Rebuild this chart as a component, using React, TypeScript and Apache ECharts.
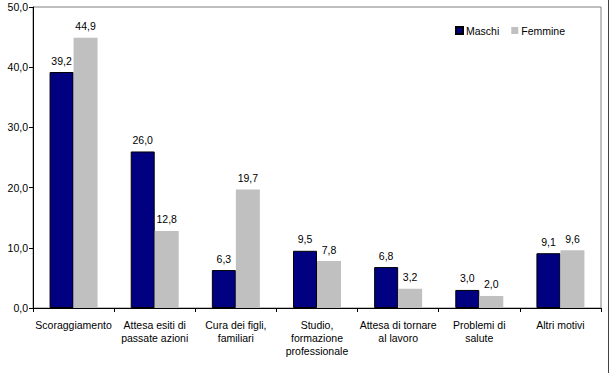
import React, { useEffect, useRef } from "react";
import * as echarts from "echarts";

const categories = [
  "Scoraggiamento",
  "Attesa esiti di\npassate azioni",
  "Cura dei figli,\nfamiliari",
  "Studio,\nformazione\nprofessionale",
  "Attesa di tornare\nal lavoro",
  "Problemi di\nsalute",
  "Altri motivi",
];
const maschi = [39.2, 26.0, 6.3, 9.5, 6.8, 3.0, 9.1];
const femmine = [44.9, 12.8, 19.7, 7.8, 3.2, 2.0, 9.6];
const yTicks = { min: 0, max: 50, interval: 10 };

const fmt = (v: number) => v.toFixed(1).replace(".", ",");
const FONT = "'Liberation Sans', Arial, sans-serif";
const FS = 10.5;

export default function App() {
  const ref = useRef<HTMLDivElement>(null);
  useEffect(() => {
    document.body.style.margin = "0";
    const chart = echarts.init(ref.current!, null, { renderer: "svg" });
    chart.setOption({
      animation: false,
      textStyle: { fontFamily: FONT },
      grid: {
        left: 33,
        right: 9,
        top: 7,
        bottom: 65,
        show: true,
        borderColor: "#808080",
        borderWidth: 1,
        backgroundColor: "#ffffff",
      },
      legend: {
        data: ["Maschi", "Femmine"],
        left: 450,
        top: 20,
        icon: "rect",
        itemWidth: 7,
        itemHeight: 7,
        itemGap: 12,
        textStyle: { fontSize: FS, color: "#000", fontFamily: FONT, padding: [0, 0, 0, -2] },
      },
      xAxis: {
        type: "category",
        data: categories,
        axisLine: { lineStyle: { color: "#000", width: 1 } },
        axisTick: { show: true, length: 4, lineStyle: { color: "#000" } },
        axisLabel: {
          interval: 0,
          fontSize: FS,
          lineHeight: 13,
          color: "#000",
          margin: 10,
          fontFamily: FONT,
        },
      },
      yAxis: {
        type: "value",
        min: yTicks.min,
        max: yTicks.max,
        interval: yTicks.interval,
        axisLine: { show: true, lineStyle: { color: "#000", width: 1 } },
        axisTick: { show: true, length: 4, lineStyle: { color: "#000" } },
        splitLine: { show: false },
        axisLabel: {
          fontSize: FS,
          color: "#000",
          margin: 5,
          fontFamily: FONT,
          formatter: (v: number) => fmt(v),
        },
      },
      series: [
        {
          name: "Maschi",
          type: "bar",
          data: maschi,
          barWidth: 24,
          barGap: "0%",
          itemStyle: { color: "#000080", borderColor: "#000000", borderWidth: 1 },
          label: {
            show: true,
            position: "top",
            distance: 6,
            fontSize: FS,
            color: "#000",
            fontFamily: FONT,
            formatter: (p: any) => fmt(p.value),
          },
        },
        {
          name: "Femmine",
          type: "bar",
          data: femmine,
          barWidth: 24,
          barGap: "0%",
          itemStyle: { color: "#C0C0C0" },
          label: {
            show: true,
            position: "top",
            distance: 6,
            fontSize: FS,
            color: "#000",
            fontFamily: FONT,
            formatter: (p: any) => fmt(p.value),
          },
        },
      ],
      graphic: [
        {
          type: "line",
          shape: { x1: 608.5, y1: 0, x2: 608.5, y2: 373 },
          style: { stroke: "#404040", lineWidth: 1 },
        },
      ],
    });
    return () => chart.dispose();
  }, []);
  return <div ref={ref} style={{ width: 610, height: 373 }} />;
}
